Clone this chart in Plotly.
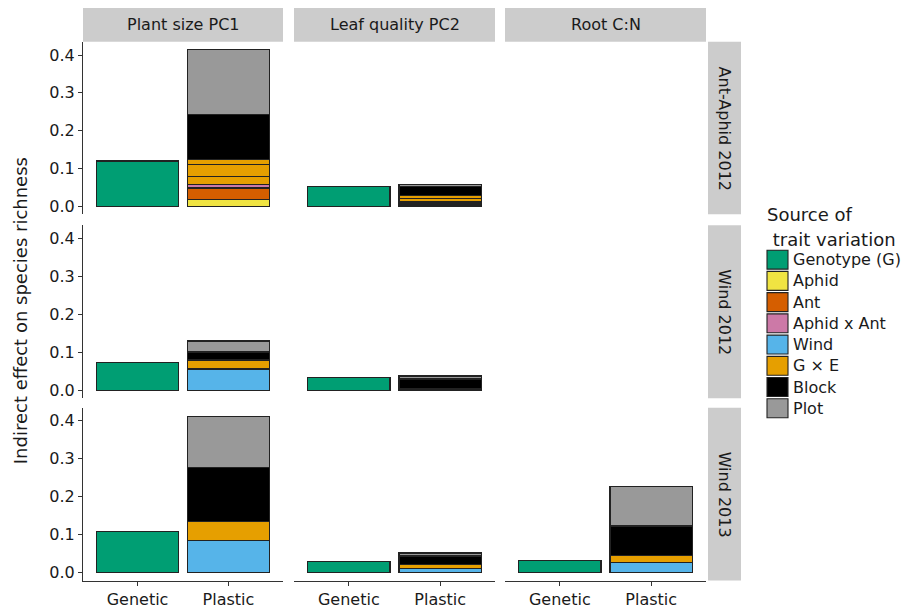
import plotly.graph_objects as go

# ---------------- data ----------------
sites = ["Ant-Aphid 2012", "Wind 2012", "Wind 2013"]
traits = ["Plant size PC1", "Leaf quality PC2", "Root C:N"]
origins = ["Genetic", "Plastic"]

sources = ["Genotype (G)", "Aphid", "Ant", "Aphid x Ant", "Wind", "G × E", "Block", "Plot"]
source_colors = ["#009E73", "#F0E442", "#D55E00", "#CC79A7", "#56B4E9", "#E69F00", "#000000", "#999999"]

# Genetic (genotype) indirect effect, per trait
genetic_ant_aphid_2012 = [0.120, 0.052, 0.0]
genetic_wind_2012 = [0.073, 0.034, 0.0]
genetic_wind_2013 = [0.108, 0.029, 0.032]

# Plastic components, stacked bottom -> top
plastic_parts_ant_aphid = ["Aphid", "Ant", "Aphid x Ant", "G × E", "G × E", "G × E", "Block", "Plot"]
plastic_ant_aphid_2012_pc1 = [0.018, 0.031, 0.009, 0.022, 0.031, 0.013, 0.119, 0.171]
plastic_ant_aphid_2012_pc2 = [0.003, 0.003, 0.002, 0.004, 0.008, 0.008, 0.024, 0.007]
plastic_ant_aphid_2012_rootcn = [0, 0, 0, 0, 0, 0, 0, 0]

plastic_parts_wind = ["Wind", "G × E", "Block", "Plot"]
plastic_wind_2012_pc1 = [0.056, 0.024, 0.021, 0.029]
plastic_wind_2012_pc2 = [0.002, 0.002, 0.026, 0.008]
plastic_wind_2012_rootcn = [0, 0, 0, 0]
plastic_wind_2013_pc1 = [0.085, 0.050, 0.143, 0.134]
plastic_wind_2013_pc2 = [0.012, 0.010, 0.022, 0.008]
plastic_wind_2013_rootcn = [0.027, 0.019, 0.077, 0.104]

y_ticks = [0.0, 0.1, 0.2, 0.3, 0.4]
y_title = "Indirect effect on species richness"
legend_title = ["Source of", " trait variation"]

genetic = [genetic_ant_aphid_2012, genetic_wind_2012, genetic_wind_2013]
plastic_parts = [plastic_parts_ant_aphid, plastic_parts_wind, plastic_parts_wind]
plastic = [
    [plastic_ant_aphid_2012_pc1, plastic_ant_aphid_2012_pc2, plastic_ant_aphid_2012_rootcn],
    [plastic_wind_2012_pc1, plastic_wind_2012_pc2, plastic_wind_2012_rootcn],
    [plastic_wind_2013_pc1, plastic_wind_2013_pc2, plastic_wind_2013_rootcn],
]
color_of = dict(zip(sources, source_colors))

# ---------------- layout geometry (pixels) ----------------
W, H = 902, 613
cols_px = [(83, 283), (294, 495), (505, 706)]
rows_px = [(42, 215), (226, 399.5), (409, 582.5)]
strip_top = (8, 42)
strip_right = (708, 741)
FONT = "DejaVu Sans"
TXT = "#1a1a1a"

def px(x):
    return x / W

def py(y):
    return 1 - y / H

ymax = max(max(genetic[r][c], sum(plastic[r][c])) for r in range(3) for c in range(3))
yrange = [-0.05 * ymax, 1.05 * ymax]

fig = go.Figure()
layout = dict(
    width=W, height=H, margin=dict(l=0, r=0, t=0, b=0),
    paper_bgcolor="white", plot_bgcolor="white",
    barmode="stack", showlegend=False,
    font=dict(family=FONT, size=16, color=TXT),
)

line_kw = dict(color="#222222", width=1.2)

for r in range(3):
    for c in range(3):
        k = r * 3 + c + 1
        xa = "x" if k == 1 else f"x{k}"
        ya = "y" if k == 1 else f"y{k}"
        # genetic bar
        if genetic[r][c] > 0:
            fig.add_trace(go.Bar(
                x=[origins[0]], y=[genetic[r][c]], width=0.9,
                marker=dict(color=color_of["Genotype (G)"], line=line_kw),
                name="Genotype (G)", xaxis=xa, yaxis=ya, hoverinfo="name+y"))
        # plastic stack
        for part, val in zip(plastic_parts[r], plastic[r][c]):
            if val > 0:
                fig.add_trace(go.Bar(
                    x=[origins[1]], y=[val], width=0.9,
                    marker=dict(color=color_of[part], line=line_kw),
                    name=part, xaxis=xa, yaxis=ya, hoverinfo="name+y"))
        x0, x1 = cols_px[c]
        yt, yb = rows_px[r]
        xkey = "xaxis" if k == 1 else f"xaxis{k}"
        ykey = "yaxis" if k == 1 else f"yaxis{k}"
        bottom = (r == 2)
        left = (c == 0)
        layout[xkey] = dict(
            domain=[px(x0), px(x1)], anchor=ya, type="category",
            categoryorder="array", categoryarray=origins, range=[-0.6, 1.6],
            showgrid=False, zeroline=False,
            showline=bottom, linecolor="#333333", linewidth=1.2,
            ticks="outside" if bottom else "", ticklen=4, tickwidth=1.2, tickcolor="#333333",
            showticklabels=bottom, tickfont=dict(family=FONT, size=16, color=TXT),
        )
        layout[ykey] = dict(
            domain=[py(yb), py(yt)], anchor=xa, range=yrange,
            showgrid=False, zeroline=False,
            showline=left, linecolor="#333333", linewidth=1.2,
            ticks="outside" if left else "", ticklen=4, tickwidth=1.2, tickcolor="#333333",
            tickvals=y_ticks, ticktext=[f"{v:.1f}" for v in y_ticks],
            showticklabels=left, tickfont=dict(family=FONT, size=16, color=TXT),
        )

shapes = []
annotations = []
strip_fill = "#cccccc"
# column strips
for c, t in enumerate(traits):
    x0, x1 = cols_px[c]
    shapes.append(dict(type="rect", xref="paper", yref="paper",
                       x0=px(x0), x1=px(x1), y0=py(strip_top[1]), y1=py(strip_top[0]),
                       fillcolor=strip_fill, line=dict(width=0), layer="below"))
    annotations.append(dict(text=t, xref="paper", yref="paper",
                            x=px((x0 + x1) / 2), y=py((strip_top[0] + strip_top[1]) / 2),
                            showarrow=False, xanchor="center", yanchor="middle",
                            font=dict(family=FONT, size=16, color=TXT)))
# row strips
for r, s in enumerate(sites):
    yt, yb = rows_px[r]
    shapes.append(dict(type="rect", xref="paper", yref="paper",
                       x0=px(strip_right[0]), x1=px(strip_right[1]), y0=py(yb), y1=py(yt),
                       fillcolor=strip_fill, line=dict(width=0), layer="below"))
    annotations.append(dict(text=s, xref="paper", yref="paper",
                            x=px((strip_right[0] + strip_right[1]) / 2), y=py((yt + yb) / 2),
                            showarrow=False, xanchor="center", yanchor="middle", textangle=90,
                            font=dict(family=FONT, size=16, color=TXT)))
# y-axis title
annotations.append(dict(text=y_title, xref="paper", yref="paper",
                        x=px(20), y=py((rows_px[0][0] + rows_px[2][1]) / 2),
                        showarrow=False, xanchor="center", yanchor="middle", textangle=-90,
                        font=dict(family=FONT, size=18, color=TXT)))

# legend (drawn manually to match ggplot key)
leg_x0, leg_sw = 767, 21
leg_y0, leg_dy = 260.5, 21.3
annotations.append(dict(text=legend_title[0], xref="paper", yref="paper",
                        x=px(765), y=py(215), showarrow=False, xanchor="left", yanchor="middle",
                        font=dict(family=FONT, size=18, color=TXT)))
annotations.append(dict(text=legend_title[1], xref="paper", yref="paper",
                        x=px(765), y=py(240), showarrow=False, xanchor="left", yanchor="middle",
                        font=dict(family=FONT, size=18, color=TXT)))
for i, (s, col) in enumerate(zip(sources, source_colors)):
    cy = leg_y0 + i * leg_dy
    shapes.append(dict(type="rect", xref="paper", yref="paper",
                       x0=px(leg_x0), x1=px(leg_x0 + leg_sw),
                       y0=py(cy + 9.5), y1=py(cy - 9.5),
                       fillcolor=col, line=dict(color="#222222", width=1.1)))
    annotations.append(dict(text=s, xref="paper", yref="paper",
                            x=px(leg_x0 + leg_sw + 3), y=py(cy), showarrow=False,
                            xanchor="left", yanchor="middle",
                            font=dict(family=FONT, size=16, color=TXT)))

layout["shapes"] = shapes
layout["annotations"] = annotations
fig.update_layout(**layout)
fig.write_html("out.html")
